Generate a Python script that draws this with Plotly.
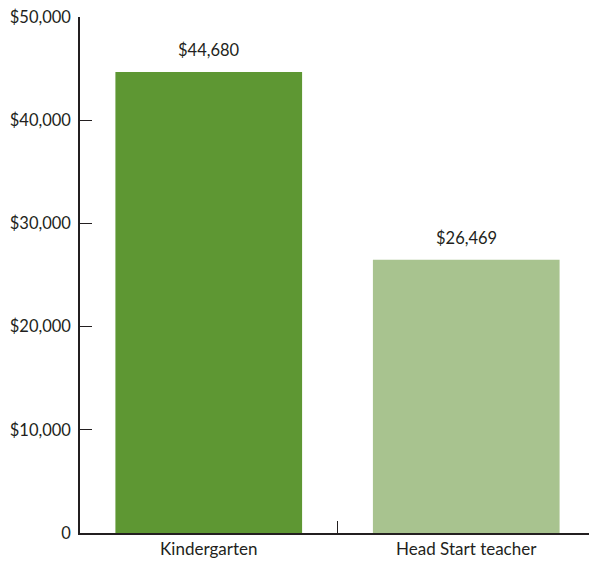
import plotly.graph_objects as go

categories = ["Kindergarten", "Head Start teacher"]
salaries = [44680, 26469]
bar_colors = ["#5e9733", "#a8c38f"]
value_labels = ["$44,680", "$26,469"]
y_tickvals = [0, 10000, 20000, 30000, 40000, 50000]
y_ticktext = ["0", "$10,000", "$20,000", "$30,000", "$40,000", "$50,000"]

ink = "#231f20"
font = "Lato, 'Open Sans', sans-serif"

fig = go.Figure()
fig.add_trace(go.Bar(
    x=categories, y=salaries,
    marker=dict(color=bar_colors, line=dict(width=0)),
    width=0.725,
    hoverinfo="skip",
))

# value labels above the bars
for cat, val, lab in zip(categories, salaries, value_labels):
    fig.add_annotation(x=cat, y=val, text=lab, showarrow=False,
                       yanchor="bottom", yshift=10,
                       font=dict(size=16.5, color=ink, family=font))

# closing tick at the right end of the x axis
fig.add_shape(type="line", xref="paper", yref="y domain",
              x0=1, x1=1, y0=0, y1=0.023,
              line=dict(color=ink, width=1.2))

# page body adds 8px offset, so the figure is a bit smaller than the window
fig.update_layout(
    width=589, height=554,
    margin=dict(l=72, r=2, t=9, b=29),
    plot_bgcolor="white", paper_bgcolor="white",
    showlegend=False,
    font=dict(family=font, size=16.5, color=ink),
)
fig.update_xaxes(
    automargin=False,
    showline=True, linecolor=ink, linewidth=1.5,
    ticks="inside", tickson="boundaries", ticklen=12, tickwidth=1.2, tickcolor=ink,
    ticklabelstandoff=0,
    showgrid=False, tickfont=dict(size=17, color=ink),
)
fig.update_yaxes(
    automargin=False,
    range=[0, 50000], tickvals=y_tickvals, ticktext=y_ticktext,
    showline=True, linecolor=ink, linewidth=1.5,
    ticks="inside", ticklen=12, tickwidth=1.2, tickcolor=ink,
    ticklabelstandoff=4, ticklabeloverflow="allow",
    showgrid=False, zeroline=False, tickfont=dict(size=16.5, color=ink),
)

fig.write_html("out.html")
